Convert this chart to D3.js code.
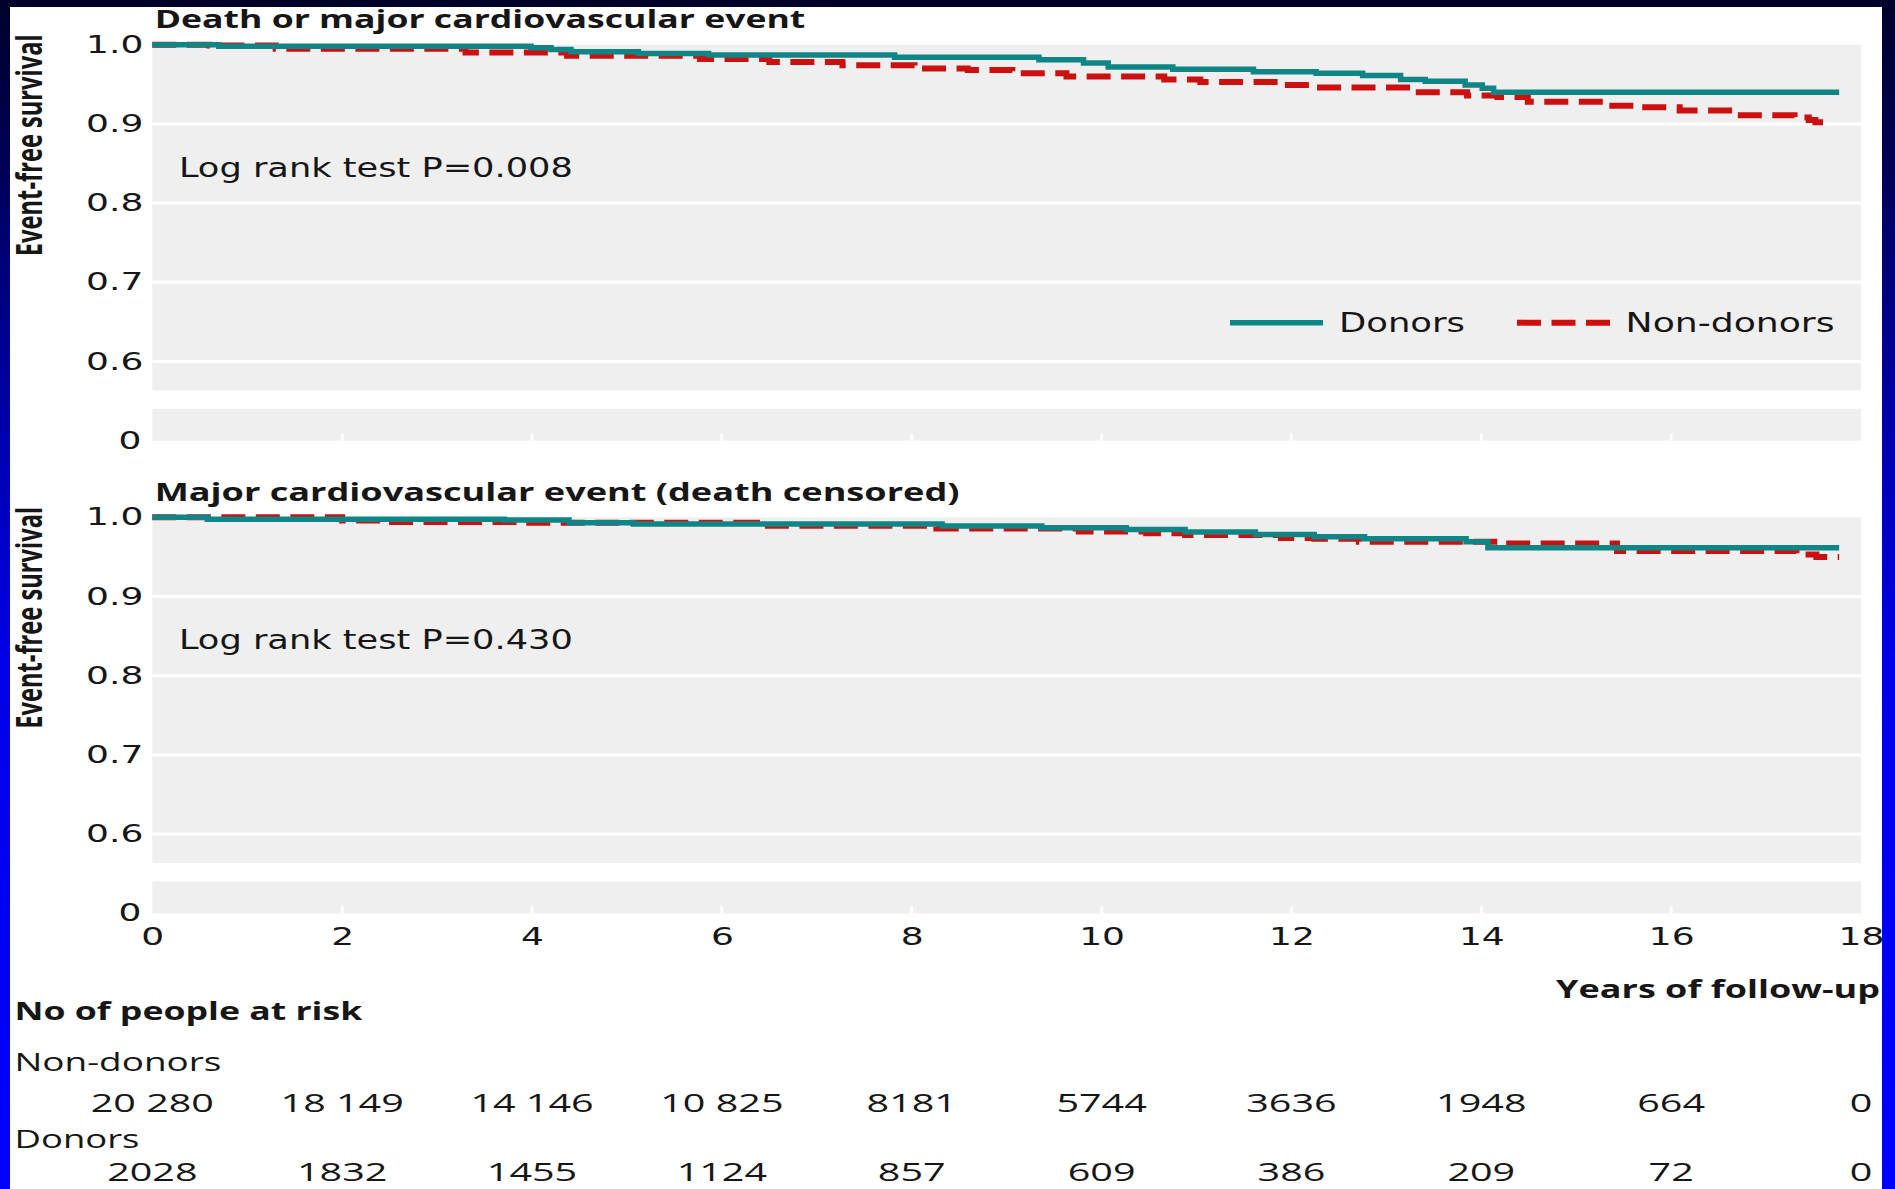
<!DOCTYPE html>
<html><head><meta charset="utf-8">
<script src="https://cdn.jsdelivr.net/npm/d3@7"></script>
<style>
html,body{margin:0;padding:0;}
body{width:1895px;height:1189px;overflow:hidden;background:#0000ff;}
svg{position:absolute;left:0;top:0;}
</style></head><body>
<svg id="chart" width="1895" height="1189"></svg>
<script>
// ---------------- DATA ----------------
const xTicks = [0, 2, 4, 6, 8, 10, 12, 14, 16, 18];
const yTicks = [0.6, 0.7, 0.8, 0.9, 1.0];
const seriesNames = ["Donors", "Non-donors"];
const panelTitles = ["Death or major cardiovascular event", "Major cardiovascular event (death censored)"];
const logRankLabels = ["Log rank test P=0.008", "Log rank test P=0.430"];

// Panel 1: death or major cardiovascular event
const p1DonorsTime = [0, 0.7, 3.99, 4.2, 4.41, 5.12, 5.86, 7.82, 9.34, 9.81, 10.07, 10.75, 11.6, 12.26, 12.75, 13.15, 13.41, 13.83, 14.01, 14.13, 17.77];
const p1DonorsSurv = [1.000, 0.998, 0.996, 0.994, 0.991, 0.989, 0.987, 0.984, 0.981, 0.977, 0.972, 0.969, 0.966, 0.964, 0.961, 0.956, 0.954, 0.949, 0.945, 0.940, 0.940];
const p1NonDonorsTime = [0, 0.6, 1.3, 3.3, 4.37, 5.77, 6.5, 7.27, 8.03, 8.59, 9.06, 9.63, 10.66, 11.04, 11.88, 12.26, 13.29, 13.85, 14.17, 14.49, 15.29, 15.69, 16.09, 16.69, 17.3, 17.45, 17.52, 17.6];
const p1NonDonorsSurv = [1.000, 0.999, 0.995, 0.990, 0.986, 0.982, 0.978, 0.974, 0.970, 0.968, 0.964, 0.960, 0.956, 0.953, 0.949, 0.946, 0.940, 0.936, 0.934, 0.928, 0.923, 0.921, 0.917, 0.911, 0.908, 0.905, 0.902, 0.902];

// Panel 2: major cardiovascular event (death censored)
const p2DonorsTime = [0, 0.58, 3.71, 4.39, 5.07, 8.32, 9.37, 10.26, 10.88, 11.62, 12.24, 12.77, 13.84, 14.07, 17.77];
const p2DonorsSurv = [1.000, 0.9975, 0.9966, 0.993, 0.9915, 0.989, 0.9868, 0.9847, 0.9813, 0.9783, 0.9754, 0.9728, 0.969, 0.9614, 0.9614];
const p2NonDonorsTime = [0, 2.0, 2.4, 3.9, 6.37, 8.26, 9.76, 10.47, 10.88, 11.89, 12.24, 12.71, 14.22, 15.43, 17.32, 17.53, 17.77];
const p2NonDonorsSurv = [1.000, 0.996, 0.994, 0.993, 0.9894, 0.986, 0.982, 0.980, 0.9775, 0.974, 0.973, 0.969, 0.967, 0.9575, 0.953, 0.950, 0.950];

// Numbers at risk
const riskYears = [0, 2, 4, 6, 8, 10, 12, 14, 16, 18];
const riskNonDonors = ["20 280", "18 149", "14 146", "10 825", "8181", "5744", "3636", "1948", "664", "0"];
const riskDonors = ["2028", "1832", "1455", "1124", "857", "609", "386", "209", "72", "0"];

// ---------------- STYLE ----------------
const TEAL = "#0f8585";
const RED = "#cc1010";
const PANEL_BG = "#efefef";
const TXT = "#161616";
const SANS = "'DejaVu Sans', Verdana, sans-serif";
const HUM = "'Open Sans', 'Noto Sans', sans-serif";

const svg = d3.select("#chart");

// page background (blue gradient slide)
const defs = svg.append("defs");
const grad = defs.append("linearGradient").attr("id", "bg").attr("x1", 0).attr("y1", 0).attr("x2", 0).attr("y2", 1);
[[0, "#00002a"], [0.12, "#000050"], [0.35, "#0000a8"], [0.55, "#0000e6"], [1, "#0000ff"]].forEach(([o, c]) =>
  grad.append("stop").attr("offset", o).attr("stop-color", c));
svg.append("rect").attr("width", 1895).attr("height", 1189).attr("fill", "url(#bg)");
svg.append("rect").attr("x", 10).attr("y", 7).attr("width", 1872).attr("height", 1182).attr("fill", "#ffffff");

// helper for stretched text
function addText(parent, o) {
  const g = parent.append("g").attr("transform", `translate(${o.x},${o.y})${o.rotate ? ` rotate(${o.rotate})` : ""}`);
  const t = g.append("text").text(o.text)
    .attr("font-family", o.family || SANS)
    .attr("font-size", o.size || 24)
    .attr("font-weight", o.weight || "normal")
    .attr("text-anchor", o.anchor || "start")
    .attr("fill", o.fill || TXT);
  const w = t.node().getComputedTextLength();
  const kx = o.width ? o.width / w : (o.k || 1);
  t.attr("transform", `scale(${kx},${o.ky || 1})`);
  return t;
}
function stretchAxisText(g, k) {
  g.selectAll("text").each(function () {
    const t = d3.select(this);
    const x = +t.attr("x") || 0;
    t.attr("x", 0).attr("transform", `translate(${x},0) scale(${k},1)`);
  });
}

const x = d3.scaleLinear().domain([0, 18]).range([152.3, 1861]);
const TICK_K = 1.5;

const panels = [
  { top: 44.7, donorsT: p1DonorsTime, donorsS: p1DonorsSurv, nonT: p1NonDonorsTime, nonS: p1NonDonorsSurv, legend: true, xAxis: false },
  { top: 517.3, donorsT: p2DonorsTime, donorsS: p2DonorsSurv, nonT: p2NonDonorsTime, nonS: p2NonDonorsSurv, legend: false, xAxis: true }
];

panels.forEach((p, i) => {
  const g = svg.append("g");
  const y = d3.scaleLinear().domain([0.6, 1.0]).range([p.top + 316.8, p.top]);
  const yZero = d3.scaleLinear().domain([0, 1]).range([p.top + 396, p.top + 364]);
  const gapBottom = y(0.5635);

  // panel backgrounds (broken axis)
  g.append("rect").attr("x", x(0)).attr("y", y(1.0)).attr("width", x(18) - x(0)).attr("height", gapBottom - y(1.0)).attr("fill", PANEL_BG);
  g.append("rect").attr("x", x(0)).attr("y", yZero(1)).attr("width", x(18) - x(0)).attr("height", yZero(0) - yZero(1)).attr("fill", PANEL_BG);

  // gridlines
  g.selectAll(".grid").data(yTicks.filter(d => d < 1)).join("line")
    .attr("x1", x(0)).attr("x2", x(18)).attr("y1", d => y(d)).attr("y2", d => y(d))
    .attr("stroke", "#ffffff").attr("stroke-width", 3);
  // small white tick stubs at bottom of zero strip
  g.selectAll(".stub").data(xTicks.filter(d => d > 0 && d < 18)).join("line")
    .attr("x1", d => x(d)).attr("x2", d => x(d)).attr("y1", yZero(0)).attr("y2", yZero(0) - 7)
    .attr("stroke", "#ffffff").attr("stroke-width", 3);

  // y axis
  const ya = g.append("g").attr("transform", `translate(${x(0)},0)`)
    .call(d3.axisLeft(y).tickValues(yTicks).tickFormat(d3.format(".1f")).tickSize(0).tickPadding(9));
  const yz = g.append("g").attr("transform", `translate(${x(0)},0)`)
    .call(d3.axisLeft(yZero).tickValues([0]).tickFormat(d3.format("d")).tickSize(0).tickPadding(11));
  [ya, yz].forEach(a => {
    a.select(".domain").remove();
    a.selectAll("text").attr("font-family", SANS).attr("font-size", 24).attr("fill", TXT);
    stretchAxisText(a, TICK_K);
  });

  // x axis (bottom panel only)
  if (p.xAxis) {
    const xa = g.append("g").attr("transform", `translate(0,${yZero(0)})`)
      .call(d3.axisBottom(x).tickValues(xTicks).tickFormat(d3.format("d")).tickSize(0).tickPadding(14.5));
    xa.select(".domain").remove();
    xa.selectAll("text").attr("font-family", SANS).attr("font-size", 24).attr("fill", TXT);
    stretchAxisText(xa, TICK_K);
  }

  // curves
  const line = d3.line().x(d => x(d[0])).y(d => y(d[1])).curve(d3.curveStepAfter);
  const nonData = p.nonT.map((t, j) => [t, p.nonS[j]]);
  const donData = p.donorsT.map((t, j) => [t, p.donorsS[j]]);
  g.append("path").datum(nonData).attr("d", line).attr("fill", "none")
    .attr("stroke", RED).attr("stroke-width", 6).attr("stroke-dasharray", "24,10.5");
  g.append("path").datum(donData).attr("d", line).attr("fill", "none")
    .attr("stroke", TEAL).attr("stroke-width", 5.5);

  // titles and annotations
  addText(svg, { x: 154.7, y: p.top - 16.7, text: panelTitles[i], family: HUM, weight: "bold", size: 25, width: i === 0 ? 651 : 805 });
  addText(svg, { x: 178.9, y: p.top + 131.8, text: logRankLabels[i], family: SANS, size: 26, width: 394 });
  addText(svg, { x: 42, y: p.top + 100.5, text: "Event-free survival", family: HUM, weight: "bold", size: 27, rotate: -90, anchor: "middle", width: 222, ky: 1.3 });

  // legend
  if (p.legend) {
    const ly = y(0.649);
    const lg = svg.append("g");
    lg.append("line").attr("x1", 1230).attr("x2", 1323).attr("y1", ly).attr("y2", ly).attr("stroke", TEAL).attr("stroke-width", 5.5);
    lg.append("line").attr("x1", 1517).attr("x2", 1610).attr("y1", ly).attr("y2", ly).attr("stroke", RED).attr("stroke-width", 6).attr("stroke-dasharray", "24,10.5");
    addText(lg, { x: 1339, y: ly + 9.5, text: seriesNames[0], family: SANS, size: 26, width: 126 });
    addText(lg, { x: 1625.6, y: ly + 9.5, text: seriesNames[1], family: SANS, size: 26, width: 209 });
  }
});

// x axis title
addText(svg, { x: 1880, y: 998, text: "Years of follow-up", family: HUM, weight: "bold", size: 25, anchor: "end", width: 324 });

// numbers at risk
addText(svg, { x: 14.5, y: 1020, text: "No of people at risk", family: HUM, weight: "bold", size: 25, width: 348 });
addText(svg, { x: 14.5, y: 1071, text: seriesNames[1], family: HUM, size: 26, width: 207 });
addText(svg, { x: 14.5, y: 1148, text: seriesNames[0], family: HUM, size: 26, width: 125 });
const RISK_K = 1.52;
riskYears.forEach((yr, j) => {
  addText(svg, { x: x(yr), y: 1112, text: riskNonDonors[j], family: HUM, size: 26, anchor: "middle", k: RISK_K });
  addText(svg, { x: x(yr), y: 1181, text: riskDonors[j], family: HUM, size: 26, anchor: "middle", k: RISK_K });
});
</script>
</body></html>
